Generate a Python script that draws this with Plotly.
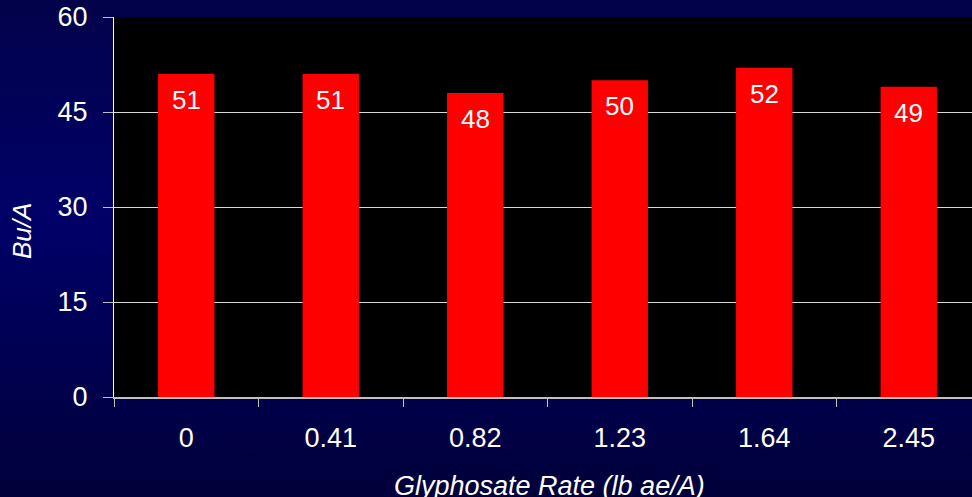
import base64
import plotly.graph_objects as go

categories = ["0", "0.41", "0.82", "1.23", "1.64", "2.45"]
yields = [51, 51, 48, 50, 52, 49]
y_ticks = [0, 15, 30, 45, 60]

W, H = 972, 497
ML, MT, MB, MR = 114, 17, 100, 0
FONT = "Liberation Sans, Arial"

svg = f'''<svg xmlns="http://www.w3.org/2000/svg" width="{W}" height="{H}">
<defs><linearGradient id="g" x1="0" y1="0" x2="0" y2="1">
<stop offset="0" stop-color="#02024a"/>
<stop offset="0.45" stop-color="#000068"/>
<stop offset="1" stop-color="#00003a"/>
</linearGradient></defs>
<rect width="{W}" height="{H}" fill="url(#g)"/></svg>'''
bg_uri = "data:image/svg+xml;base64," + base64.b64encode(svg.encode()).decode()

pw = W - ML - MR
ph = H - MT - MB

fig = go.Figure()
fig.add_trace(go.Bar(
    x=categories, y=yields, width=0.39,
    marker=dict(color="#ff0000", line=dict(width=0)),
    hoverinfo="skip",
))

for i, v in enumerate(yields):
    fig.add_annotation(x=i, y=v, text=str(v), showarrow=False,
                       yanchor="middle", yshift=-26,
                       font=dict(family=FONT, size=26, color="white"))

fig.add_layout_image(dict(source=bg_uri, xref="paper", yref="paper",
                          x=-ML / pw, y=1 + MT / ph, sizex=W / pw, sizey=H / ph,
                          xanchor="left", yanchor="top", sizing="stretch", layer="below"))
fig.add_shape(type="rect", xref="paper", yref="paper", x0=0, x1=1, y0=0, y1=1,
              fillcolor="black", line=dict(width=0), layer="below")

fig.add_annotation(xref="paper", yref="paper", x=(549 - ML) / pw, y=-(486 - (H - MB)) / ph,
                   text="<i>Glyphosate Rate (lb ae/A)</i>", showarrow=False,
                   xanchor="center", yanchor="middle",
                   font=dict(family=FONT, size=27, color="white"))
fig.add_annotation(xref="paper", yref="paper", x=-(ML - 22) / pw, y=1 - (231 - MT) / ph,
                   text="<i>Bu/A</i>", showarrow=False, textangle=-90,
                   xanchor="center", yanchor="middle",
                   font=dict(family=FONT, size=26, color="white"))

fig.update_layout(
    width=W, height=H,
    margin=dict(l=ML, r=MR, t=MT, b=MB, pad=0),
    paper_bgcolor="#000060", plot_bgcolor="black",
    showlegend=False,
    font=dict(family=FONT, size=27, color="white"),
    xaxis=dict(type="category", range=[-0.5, -0.5 + pw / 144.5],
               tickson="boundaries", ticks="outside", ticklen=8, tickcolor="#c0c0c0",
               tickwidth=1, showline=True, linecolor="#c0c0c0", linewidth=2,
               showgrid=False, tickfont=dict(family=FONT, size=27, color="white"),
               ticklabelstandoff=16),
    yaxis=dict(range=[0, 60], tickvals=y_ticks, ticks="outside", ticklen=10,
               tickcolor="#c0c0c0", tickwidth=1, showline=True, linecolor="white",
               linewidth=1, showgrid=True, gridcolor="#d8d8d8", gridwidth=1,
               zeroline=False, tickfont=dict(family=FONT, size=27, color="white"),
               ticklabelstandoff=10),
)

fig.write_html("out.html")
